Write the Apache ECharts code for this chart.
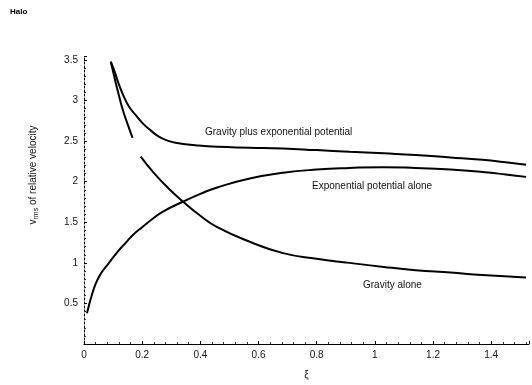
<!DOCTYPE html>
<html>
<head>
<meta charset="utf-8">
<script src="https://cdn.jsdelivr.net/npm/echarts@6/dist/echarts.min.js"></script>
<style>
  html, body { margin: 0; padding: 0; background: #fff; }
  #chart { width: 532px; height: 385px; }
</style>
</head>
<body>
<div id="chart"></div>
<script>
// values (xi, v)
const gravityPlusExp = [
  [0.092, 3.48], [0.105, 3.36], [0.12, 3.2], [0.137, 3.05], [0.154, 2.93],
  [0.178, 2.82], [0.202, 2.72], [0.23, 2.63], [0.256, 2.56], [0.285, 2.51],
  [0.315, 2.48], [0.383, 2.45], [0.458, 2.43], [0.57, 2.42], [0.684, 2.41],
  [0.8, 2.39], [0.913, 2.37], [1.03, 2.35], [1.14, 2.33], [1.26, 2.30],
  [1.37, 2.27], [1.45, 2.24], [1.52, 2.21]
]
const gravityAlone = [
  [0.092, 3.48], [0.1, 3.36], [0.109, 3.22], [0.121, 3.05], [0.133, 2.89],
  [0.15, 2.71], [0.167, 2.54], [0.18, null], [0.195, 2.31], [0.24, 2.11],
  [0.29, 1.92], [0.342, 1.75], [0.4, 1.58], [0.458, 1.44], [0.57, 1.26],
  [0.684, 1.12], [0.8, 1.05], [0.913, 1.0], [1.03, 0.95], [1.14, 0.91],
  [1.26, 0.88], [1.37, 0.85], [1.52, 0.82]
]
const expAlone = [
  [0.01, 0.38], [0.013, 0.42], [0.025, 0.58], [0.041, 0.75], [0.06, 0.88],
  [0.086, 1.0], [0.114, 1.13], [0.144, 1.25], [0.17, 1.35], [0.2, 1.44],
  [0.235, 1.54], [0.27, 1.63], [0.338, 1.75], [0.4, 1.85], [0.458, 1.93],
  [0.57, 2.04], [0.684, 2.11], [0.8, 2.15], [0.913, 2.17], [1.03, 2.18],
  [1.14, 2.17], [1.26, 2.15], [1.37, 2.12], [1.45, 2.09], [1.52, 2.06]
]
const xTicks = ['0', '0.2', '0.4', '0.6', '0.8', '1', '1.2', '1.4']
const yTicks = ['0.5', '1', '1.5', '2', '2.5', '3', '3.5']
const curveNames = [
  'Gravity plus exponential potential',
  'Gravity alone',
  'Exponential potential alone'
]

const font = '"Liberation Sans", Arial, sans-serif'
const chart = echarts.init(document.getElementById('chart'), null, { renderer: 'canvas' })

function curve(name, data) {
  return {
    name,
    type: 'line',
    data,
    showSymbol: false,
    smooth: true,
    connectNulls: false,
    lineStyle: { color: '#000', width: 2 },
    silent: true
  }
}

chart.setOption({
  animation: false,
  backgroundColor: '#fff',
  grid: { left: 84, right: 1, top: 56, bottom: 41 },
  xAxis: {
    type: 'value',
    min: 0,
    max: 1.53,
    interval: 0.2,
    name: 'ξ',
    nameLocation: 'middle',
    nameGap: 26,
    nameTextStyle: { fontFamily: font, fontSize: 10, color: '#111' },
    axisLine: { onZero: false, lineStyle: { color: '#000', width: 1 } },
    axisTick: { show: true, inside: true, length: 3, lineStyle: { color: '#000' } },
    minorTick: { show: true, splitNumber: 5, length: 2, lineStyle: { color: '#333' } },
    axisLabel: {
      fontFamily: font, fontSize: 10, color: '#111', margin: 6,
      formatter: (v) => {
        const s = xTicks.find((t) => Math.abs(parseFloat(t) - v) < 1e-6)
        return s === undefined ? '' : s
      }
    },
    splitLine: { show: false }
  },
  yAxis: {
    type: 'value',
    min: 0,
    max: 3.55,
    interval: 0.5,
    axisLine: { onZero: false, lineStyle: { color: '#000', width: 1, type: [2, 2] } },
    axisTick: { show: true, length: 3, inside: true, lineStyle: { color: '#000' } },
    minorTick: { show: true, splitNumber: 5, length: 2, lineStyle: { color: '#333' } },
    axisLabel: {
      fontFamily: font, fontSize: 10, color: '#111', margin: 6,
      formatter: (v) => {
        const s = yTicks.find((t) => Math.abs(parseFloat(t) - v) < 1e-6)
        return s === undefined ? '' : s
      }
    },
    splitLine: { show: false }
  },
  graphic: [
    {
      type: 'text', left: 10, top: 8,
      style: { text: 'Halo', font: 'bold 8px ' + font, fill: '#000' }
    },
    {
      type: 'text', x: 33, y: 175, rotation: Math.PI / 2,
      style: {
        text: '{v|v}{s|rms} of relative velocity',
        align: 'center', verticalAlign: 'middle',
        rich: {
          v: { fontFamily: font, fontSize: 10, fill: '#111' },
          s: { fontFamily: font, fontSize: 7, fill: '#111', padding: [6, 0, 0, 0] }
        },
        font: '10px ' + font, fill: '#111'
      }
    },
    {
      type: 'text', left: 205, top: 127,
      style: { text: curveNames[0], font: '10px ' + font, fill: '#111' }
    },
    {
      type: 'text', left: 312, top: 181,
      style: { text: curveNames[2], font: '10px ' + font, fill: '#111' }
    },
    {
      type: 'text', left: 363, top: 280,
      style: { text: curveNames[1], font: '10px ' + font, fill: '#111' }
    }
  ],
  series: [
    curve(curveNames[0], gravityPlusExp),
    curve(curveNames[1], gravityAlone),
    curve(curveNames[2], expAlone)
  ]
})
</script>
</body>
</html>
